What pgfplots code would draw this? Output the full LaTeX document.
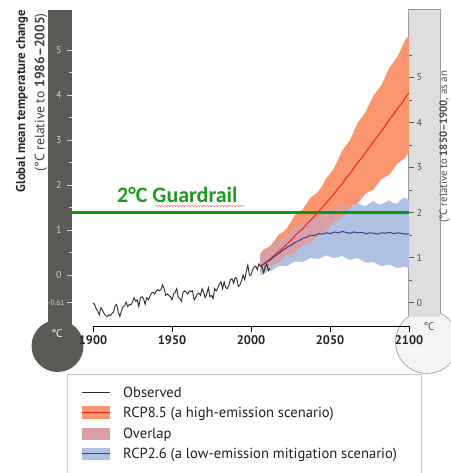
\documentclass[border=0pt]{standalone}
\usepackage{pgfplots}
\pgfplotsset{compat=1.18}
\usepackage{fontspec}
\setmainfont{PT Sans}
\newfontfamily\calibri{Carlito}
\usetikzlibrary{decorations.pathmorphing}

\definecolor{thermdark}{HTML}{5A5A56}
\definecolor{thermlab}{HTML}{D2D2D2}
\definecolor{rbar}{HTML}{DEDEDE}
\definecolor{rbulb}{HTML}{F4F4F4}
\definecolor{rline}{HTML}{9C9C9C}
\definecolor{salmon}{HTML}{F9956F}
\definecolor{redl}{HTML}{E8261C}
\definecolor{bluef}{HTML}{AFC2E3}
\definecolor{bluel}{HTML}{3C3F8E}
\definecolor{overl}{HTML}{D8A0A6}
\definecolor{grn}{HTML}{0A990A}
\definecolor{grntxt}{HTML}{1E9A1E}
\definecolor{obs}{HTML}{2B2B2B}

\begin{document}
\begin{tikzpicture}
\useasboundingbox (0pt,0pt) rectangle (450pt,473pt);

% ---- left thermometer (dark) ----
\fill[thermdark] (48pt,148pt) rectangle (72pt,463pt);
\fill[thermdark] (57.5pt,127pt) circle (26pt);
\node[text=white, font=\fontsize{11}{12}\selectfont] at (57pt,139pt) {°C};

% ---- right thermometer (light) ----
\draw[rline, line width=1.6pt] (409pt,156pt) -- (409pt,463pt) -- (440pt,463pt) -- (440pt,159pt);
\draw[rline, line width=1.6pt] (427pt,131pt) circle (31pt);
\fill[rbulb] (427pt,131pt) circle (31pt);
\fill[rbar] (409pt,156pt) rectangle (440pt,463pt);
\node[text=black!70, font=\fontsize{11}{12}\selectfont] at (429pt,146pt) {°C};

% ---- side titles ----
\node[rotate=90, anchor=east, inner sep=0pt, text=black!85,
      font=\bfseries\fontsize{12.8}{14}\selectfont] at (22pt,463pt) {Global mean temperature change};
\node[rotate=90, anchor=east, inner sep=0pt, text=black!75,
      font=\fontsize{13.6}{15}\selectfont] at (41pt,460pt) {(°C relative to \textbf{1986–2005})};
\node[rotate=90, anchor=west, inner sep=0pt, text=black!70,
      font=\fontsize{10.8}{12}\selectfont] at (444.5pt,250pt) {(°C relative to \textbf{1850–1900}, as an};

% ---- left scale ----
\begin{axis}[
  at={(48pt,147pt)}, anchor=south west, scale only axis,
  width=24pt, height=316pt, ymin=-1.13, ymax=5.89, xmin=0, xmax=1,
  hide x axis, axis y line*=right, y axis line style={draw=none},
  ytick={0,1,2,3,4,5}, minor ytick={0.5,1.5,2.5,3.5,4.5},
  extra y ticks={-0.61}, extra y tick labels={-0.61},
  extra y tick style={yticklabel style={font=\fontsize{7.5}{8}\selectfont, xshift=3pt}},
  tick align=inside, major tick length=5pt, minor tick length=3pt,
  ytick style={thermlab, line width=0.8pt},
  yticklabel style={anchor=east, xshift=-7pt, text=thermlab, font=\fontsize{10}{11}\selectfont},
  /pgf/number format/assume math mode=true,
]
\addplot[draw=none] coordinates {(0,0)};
\end{axis}

% ---- right scale ----
\begin{axis}[
  at={(409pt,147pt)}, anchor=south west, scale only axis,
  width=31pt, height=316pt, ymin=-0.52, ymax=6.50, xmin=0, xmax=1,
  hide x axis, axis y line*=left, y axis line style={draw=none},
  ytick={0,1,2,3,4,5}, minor ytick={0.5,1.5,2.5,3.5,4.5,5.5},
  tick align=inside, major tick length=5pt, minor tick length=3pt,
  ytick style={black!65, line width=0.8pt},
  yticklabel style={anchor=west, xshift=4pt, text=black!70, font=\fontsize{10}{11}\selectfont},
  /pgf/number format/assume math mode=true,
]
\addplot[draw=none] coordinates {(0,0)};
\end{axis}

% ---- legend box and entries ----
\draw[black!22, line width=0.9pt] (67pt,-5pt) -- (67pt,99pt) -- (421pt,99pt) -- (421pt,-5pt);
\begin{scope}[every node/.style={anchor=mid west, inner sep=0pt, font=\fontsize{14.6}{16}\selectfont, text=black!88}]
\draw[obs, line width=1pt] (82pt,80pt) -- (110pt,80pt);
\node at (123pt,78pt) {Observed};
\fill[salmon] (82pt,53.5pt) rectangle (110pt,66.5pt);
\draw[redl, line width=1pt] (82pt,60pt) -- (110pt,60pt);
\node at (123pt,58pt) {RCP8.5 (a high-emission scenario)};
\fill[overl] (82pt,33pt) rectangle (110pt,45pt);
\node at (123pt,37pt) {Overlap};
\fill[bluef] (82pt,13pt) rectangle (110pt,25pt);
\draw[bluel, line width=1pt] (82pt,19pt) -- (110pt,19pt);
\node at (123pt,17pt) {RCP2.6 (a low-emission mitigation scenario)};
\end{scope}

% ---- main plot ----
\begin{axis}[
  at={(93pt,147pt)}, anchor=south west, scale only axis,
  width=316pt, height=316pt,
  xmin=1900, xmax=2100, ymin=-1.13, ymax=5.89,
  axis x line*=bottom, axis y line=none, clip=false,
  x axis line style={-, black, line width=0.9pt},
  xtick={1900,1950,2000,2050,2100},
  xtick style={black, line width=0.9pt},
  tick align=outside, major tick length=6pt,
  x tick label style={font=\bfseries\fontsize{12.5}{14}\selectfont, text=black!85,
     /pgf/number format/1000 sep={}},
  /pgf/number format/assume math mode=true,
]
% RCP8.5 band (upper forward, lower backward)
\addplot[fill=salmon, draw=none] coordinates {
(2006,0.48) (2008,0.57) (2010,0.60) (2012.5,0.66) (2015,0.77) (2017.5,0.90) (2020,0.95) (2022.5,1.03)
(2025,1.17) (2027.5,1.32) (2030,1.39) (2032.5,1.45) (2035,1.58) (2037.5,1.72) (2040,1.78) (2042.5,1.85)
(2045,1.98) (2047.5,2.15) (2050,2.25) (2052.5,2.37) (2055,2.56) (2057.5,2.75) (2060,2.87) (2062.5,2.99)
(2065,3.18) (2067.5,3.38) (2070,3.50) (2072.5,3.62) (2075,3.80) (2077.5,3.99) (2080,4.10) (2082.5,4.22)
(2085,4.41) (2087.5,4.60) (2090,4.72) (2092.5,4.84) (2095,5.02) (2097.5,5.22) (2100,5.33)
(2100,2.73) (2097.5,2.60) (2095,2.54) (2092.5,2.47) (2090,2.35) (2087.5,2.23) (2085,2.18) (2082.5,2.13)
(2080,2.02) (2077.5,1.90) (2075,1.86) (2072.5,1.81) (2070,1.70) (2067.5,1.59) (2065,1.55) (2062.5,1.49)
(2060,1.38) (2057.5,1.27) (2055,1.22) (2052.5,1.17) (2050,1.07) (2047.5,0.97) (2045,0.93) (2042.5,0.89)
(2040,0.80) (2037.5,0.71) (2035,0.68) (2032.5,0.65) (2030,0.57) (2027.5,0.49) (2025,0.46) (2022.5,0.43)
(2020,0.35) (2017.5,0.28) (2015,0.25) (2012.5,0.22) (2010,0.15) (2008,0.09) (2006,0.08)
};
% RCP2.6 band
\addplot[fill=bluef, draw=none] coordinates {
(2006,0.45) (2008,0.52) (2010,0.56) (2012.5,0.60) (2015,0.70) (2017.5,0.79) (2020,0.82) (2022.5,0.86)
(2025,0.95) (2027.5,1.04) (2030,1.08) (2032.5,1.12) (2035,1.20) (2037.5,1.28) (2040,1.30) (2042.5,1.32)
(2045,1.38) (2047.5,1.44) (2050,1.44) (2052.5,1.43) (2055,1.48) (2057.5,1.54) (2060,1.52) (2062.5,1.50)
(2065,1.54) (2067.5,1.60) (2070,1.56) (2072.5,1.53) (2075,1.60) (2077.5,1.65) (2080,1.58) (2082.5,1.57)
(2085,1.62) (2087.5,1.66) (2090,1.60) (2092.5,1.59) (2095,1.68) (2097.5,1.72) (2100,1.66)
(2100,0.15) (2097.5,0.19) (2095,0.17) (2092.5,0.16) (2090,0.20) (2087.5,0.24) (2085,0.22) (2082.5,0.20)
(2080,0.24) (2077.5,0.29) (2075,0.28) (2072.5,0.28) (2070,0.33) (2067.5,0.38) (2065,0.36) (2062.5,0.34)
(2060,0.38) (2057.5,0.43) (2055,0.40) (2052.5,0.38) (2050,0.41) (2047.5,0.44) (2045,0.40) (2042.5,0.36)
(2040,0.37) (2037.5,0.38) (2035,0.33) (2032.5,0.29) (2030,0.30) (2027.5,0.30) (2025,0.25) (2022.5,0.20)
(2020,0.20) (2017.5,0.20) (2015,0.15) (2012.5,0.09) (2010,0.08) (2008,0.02) (2006,0.00)
};
% Overlap of the two bands
\addplot[fill=overl, draw=none] coordinates {
(2006,0.45) (2008,0.52) (2010,0.56) (2012.5,0.60) (2015,0.70) (2017.5,0.79) (2020,0.82) (2022.5,0.86)
(2025,0.95) (2027.5,1.04) (2030,1.08) (2032.5,1.12) (2035,1.20) (2037.5,1.28) (2040,1.30) (2042.5,1.32)
(2045,1.38) (2047.5,1.44) (2050,1.44) (2052.5,1.43) (2055,1.48) (2057.5,1.54) (2060,1.52) (2062.5,1.50)
(2063.5,1.52)
(2062.5,1.49) (2060,1.38) (2057.5,1.27) (2055,1.22) (2052.5,1.17) (2050,1.07) (2047.5,0.97) (2045,0.93)
(2042.5,0.89) (2040,0.80) (2037.5,0.71) (2035,0.68) (2032.5,0.65) (2030,0.57) (2027.5,0.49) (2025,0.46)
(2022.5,0.43) (2020,0.35) (2017.5,0.28) (2015,0.25) (2012.5,0.22) (2010,0.15) (2008,0.09) (2006,0.08)
};
% 2 degree guardrail
\addplot[grn, line width=3pt] coordinates {(1886.7,1.39) (2100,1.39)};
% RCP8.5 mean
\addplot[redl, line width=1pt] coordinates {
(2006,0.20) (2008,0.25) (2010,0.30) (2012,0.36) (2015,0.45) (2018,0.54) (2020,0.60) (2023,0.70)
(2025,0.76) (2028,0.88) (2030,0.95) (2033,1.04) (2035,1.12) (2038,1.23) (2040,1.30) (2043,1.42)
(2045,1.50) (2048,1.62) (2050,1.70) (2053,1.82) (2055,1.92) (2058,2.04) (2060,2.15) (2063,2.27)
(2065,2.38) (2068,2.52) (2070,2.60) (2073,2.75) (2075,2.84) (2078,2.99) (2080,3.08) (2083,3.22)
(2085,3.32) (2088,3.48) (2090,3.56) (2093,3.71) (2095,3.80) (2098,3.96) (2100,4.05)
};
% RCP2.6 mean
\addplot[bluel, line width=1pt] coordinates {
(2006,0.20) (2008,0.24) (2010,0.30) (2012,0.33) (2015,0.42) (2018,0.49) (2020,0.55) (2023,0.62)
(2025,0.66) (2028,0.73) (2030,0.76) (2033,0.82) (2035,0.84) (2038,0.89) (2040,0.88) (2043,0.92)
(2045,0.91) (2048,0.94) (2050,0.92) (2053,0.96) (2055,0.94) (2058,0.97) (2060,0.95) (2063,0.93)
(2065,0.96) (2068,0.94) (2070,0.95) (2073,0.92) (2075,0.94) (2078,0.93) (2080,0.91) (2083,0.94)
(2085,0.93) (2088,0.95) (2090,0.92) (2093,0.94) (2095,0.93) (2098,0.91) (2100,0.92)
};
% Observed
\addplot[obs, line width=0.9pt] coordinates {
(1900,-0.62) (1901,-0.65) (1902,-0.75) (1903,-0.80) (1904,-0.88) (1905,-0.72) (1906,-0.78) (1907,-0.85)
(1908,-0.90) (1909,-0.92) (1910,-0.88) (1911,-0.90) (1912,-0.85) (1913,-0.82) (1914,-0.68) (1915,-0.65)
(1916,-0.82) (1917,-0.92) (1918,-0.80) (1919,-0.70) (1920,-0.68) (1921,-0.60) (1922,-0.70) (1923,-0.65)
(1924,-0.66) (1925,-0.60) (1926,-0.50) (1927,-0.58) (1928,-0.55) (1929,-0.70) (1930,-0.50) (1931,-0.48)
(1932,-0.52) (1933,-0.65) (1934,-0.50) (1935,-0.55) (1936,-0.48) (1937,-0.40) (1938,-0.38) (1939,-0.42)
(1940,-0.35) (1941,-0.32) (1942,-0.35) (1943,-0.32) (1944,-0.22) (1945,-0.30) (1946,-0.45) (1947,-0.42)
(1948,-0.45) (1949,-0.48) (1950,-0.55) (1951,-0.42) (1952,-0.38) (1953,-0.30) (1954,-0.50) (1955,-0.52)
(1956,-0.58) (1957,-0.38) (1958,-0.35) (1959,-0.38) (1960,-0.42) (1961,-0.35) (1962,-0.37) (1963,-0.35)
(1964,-0.55) (1965,-0.50) (1966,-0.42) (1967,-0.40) (1968,-0.45) (1969,-0.30) (1970,-0.38) (1971,-0.50)
(1972,-0.42) (1973,-0.28) (1974,-0.48) (1975,-0.45) (1976,-0.52) (1977,-0.30) (1978,-0.35) (1979,-0.28)
(1980,-0.20) (1981,-0.15) (1982,-0.30) (1983,-0.15) (1984,-0.28) (1985,-0.30) (1986,-0.22) (1987,-0.10)
(1988,-0.08) (1989,-0.18) (1990,-0.05) (1991,-0.08) (1992,-0.25) (1993,-0.22) (1994,-0.12) (1995,0.00)
(1996,-0.10) (1997,0.08) (1998,0.22) (1999,0.00) (2000,0.00) (2001,0.12) (2002,0.18) (2003,0.20)
(2004,0.12) (2005,0.25) (2006,0.20) (2007,0.18) (2008,0.05) (2009,0.18) (2010,0.25) (2011,0.10)
(2012,0.15)
};
\end{axis}

% ---- guardrail label ----
\node[anchor=base west, inner sep=0pt, text=grntxt, font=\calibri\bfseries\fontsize{22}{24}\selectfont]
  at (117pt,270pt) {2°C Guardrail};
\draw[red!55, line width=0.5pt, decorate, decoration={snake, amplitude=0.8pt, segment length=3pt}]
  (155pt,267pt) -- (245pt,267pt);
\end{tikzpicture}
\end{document}
